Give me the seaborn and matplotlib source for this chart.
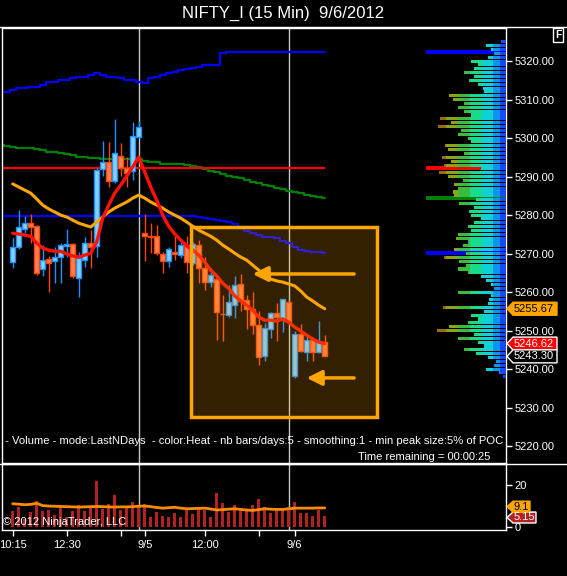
import numpy as np
import matplotlib
matplotlib.use("Agg")
import matplotlib.pyplot as plt
import seaborn as sns
from matplotlib.lines import Line2D
from matplotlib.patches import Rectangle, Polygon

# NIFTY_I 15 min bars, 9/4 10:15 .. 9/6 10:30 (bar index 0..52)
opens = [5267.8, 5271.7, 5276.4, 5277.9, 5277.1, 5266.0, 5268.6, 5268.1, 5269.1, 5272.0,
         5272.5, 5263.6, 5268.3, 5272.7, 5272.0, 5291.9, 5293.8, 5288.8, 5295.3, 5292.2,
         5291.4, 5300.3, 5275.3, 5274.6, 5274.5, 5269.9, 5268.1, 5270.3, 5269.6, 5272.2,
         5267.5, 5272.2, 5266.2, 5262.6, 5263.4, 5254.4, 5254.0, 5256.6, 5262.1, 5257.9,
         5255.6, 5251.4, 5243.4, 5250.4, 5254.5, 5253.2, 5257.4, 5238.2, 5249.1, 5244.4,
         5247.5, 5244.4, 5247.0]
highs = [5274.0, 5281.3, 5279.7, 5280.3, 5277.5, 5272.2, 5269.4, 5271.7, 5272.7, 5276.4,
         5272.7, 5270.4, 5274.3, 5276.1, 5292.2, 5299.2, 5299.0, 5304.9, 5298.7, 5295.1,
         5304.2, 5304.4, 5280.3, 5277.9, 5277.4, 5270.4, 5271.7, 5275.3, 5273.5, 5274.5,
         5273.0, 5273.5, 5269.1, 5266.2, 5263.6, 5259.2, 5261.8, 5264.2, 5264.7, 5259.2,
         5260.0, 5255.1, 5252.0, 5254.8, 5257.1, 5258.2, 5257.6, 5249.9, 5251.7, 5248.8,
         5248.1, 5252.5, 5248.8]
lows = [5266.2, 5271.2, 5275.3, 5272.7, 5264.5, 5264.2, 5260.0, 5262.3, 5262.3, 5269.1,
        5263.6, 5258.7, 5266.5, 5266.2, 5269.1, 5290.1, 5287.3, 5288.3, 5290.1, 5287.3,
        5289.1, 5300.0, 5268.1, 5270.1, 5269.6, 5264.9, 5266.5, 5268.3, 5268.8, 5264.9,
        5267.0, 5262.3, 5260.5, 5261.3, 5247.5, 5247.3, 5253.5, 5253.2, 5255.1, 5250.4,
        5249.1, 5241.0, 5242.1, 5248.1, 5247.3, 5249.6, 5251.8, 5237.7, 5244.4, 5242.1,
        5242.1, 5244.2, 5243.3]
closes = [5271.7, 5276.9, 5277.9, 5276.9, 5264.9, 5268.3, 5267.5, 5269.1, 5272.2, 5272.5,
          5264.2, 5268.8, 5272.7, 5271.7, 5291.7, 5293.8, 5288.8, 5296.1, 5292.2, 5290.9,
          5300.5, 5302.9, 5274.5, 5274.3, 5270.1, 5268.1, 5271.2, 5270.0, 5272.2, 5267.8,
          5272.5, 5266.2, 5262.6, 5264.4, 5254.8, 5254.2, 5257.4, 5261.8, 5257.7, 5255.6,
          5251.4, 5243.1, 5250.6, 5254.5, 5253.5, 5258.2, 5252.2, 5249.1, 5244.7, 5247.5,
          5244.4, 5247.0, 5243.3]

# fast (red) and slow (orange) averages
fast_ma = [5275.3, 5275.1, 5274.8, 5274.5, 5272.7, 5271.4, 5270.9, 5270.6, 5270.6, 5269.9,
           5269.4, 5269.1, 5269.6, 5270.1, 5273.0, 5279.2, 5282.6, 5285.7, 5287.8, 5290.1,
           5292.5, 5295.1, 5291.2, 5287.3, 5283.9, 5280.0, 5277.1, 5275.1, 5273.5, 5272.0,
           5270.9, 5269.6, 5267.8, 5265.7, 5264.2, 5262.3, 5261.0, 5259.0, 5257.7, 5256.6,
           5255.3, 5253.5, 5252.7, 5252.7, 5252.5, 5253.0, 5252.2, 5250.9, 5249.9, 5248.8,
           5247.8, 5247.0, 5246.62]
slow_ma = [5288.1, 5287.3, 5286.5, 5285.7, 5284.2, 5282.6, 5281.6, 5280.8, 5280.0, 5279.5,
           5278.7, 5277.9, 5277.4, 5276.9, 5278.2, 5279.5, 5280.8, 5281.8, 5282.6, 5283.4,
           5284.4, 5285.2, 5284.4, 5283.4, 5282.6, 5281.8, 5280.8, 5280.0, 5279.2, 5278.2,
           5277.1, 5276.1, 5275.3, 5274.5, 5273.5, 5272.2, 5271.2, 5270.1, 5269.1, 5268.3,
           5267.0, 5265.7, 5264.4, 5263.4, 5262.9, 5262.6, 5262.1, 5261.6, 5260.3, 5258.7,
           5257.7, 5256.6, 5255.67]

# step lines start two bars before the first candle (index -2..52)
upper_band = [5312.0, 5312.0, 5312.5, 5313.1, 5313.1, 5313.3, 5313.3, 5313.9, 5314.5, 5314.5,
              5315.0, 5315.2, 5315.5, 5316.0, 5316.0, 5316.5, 5316.8, 5316.5, 5316.0, 5315.8,
              5315.5, 5315.2, 5315.2, 5314.7, 5314.2, 5315.5, 5316.0, 5316.5, 5317.0, 5317.3,
              5317.6, 5317.9, 5318.1, 5318.4, 5318.9, 5319.1, 5319.1, 5322.0, 5322.3, 5322.3,
              5322.3, 5322.3, 5322.3, 5322.3, 5322.3, 5322.3, 5322.3, 5322.3, 5322.3, 5322.3,
              5322.3, 5322.3, 5322.3, 5322.3, 5322.3]
green_line = [5298.2, 5298.0, 5297.6, 5297.3, 5297.3, 5297.3, 5297.1, 5296.8, 5296.3, 5296.3,
              5296.0, 5295.8, 5295.5, 5295.2, 5295.0, 5294.9, 5294.8, 5294.7, 5294.5, 5294.5,
              5294.6, 5294.7, 5294.7, 5294.7, 5294.1, 5293.9, 5293.7, 5293.4, 5293.4, 5293.2,
              5293.2, 5293.0, 5292.7, 5292.5, 5291.9, 5291.4, 5291.2, 5290.6, 5290.1, 5289.9,
              5289.6, 5289.1, 5288.6, 5288.3, 5287.8, 5287.5, 5287.0, 5286.8, 5286.2, 5286.0,
              5285.7, 5285.2, 5284.9, 5284.7, 5284.4]
lower_band = [5279.8, 5279.8, 5279.8, 5279.8, 5279.8, 5279.8, 5279.8, 5279.8, 5279.8, 5279.8,
              5279.8, 5279.8, 5279.8, 5279.8, 5279.8, 5279.8, 5279.8, 5279.8, 5279.8, 5279.8,
              5279.8, 5279.8, 5279.8, 5279.8, 5279.8, 5279.8, 5279.8, 5279.8, 5279.8, 5279.8,
              5279.8, 5279.8, 5279.7, 5279.5, 5279.2, 5279.0, 5278.7, 5278.4, 5278.2, 5277.7,
              5276.6, 5275.8, 5275.3, 5274.8, 5274.3, 5274.2, 5274.0, 5273.2, 5272.7, 5271.7,
              5270.9, 5270.6, 5270.4, 5270.3, 5270.1]
poc_price = 5292.3

volume = [7.5, 9.5, 4.0, 7.0, 12.2, 7.5, 8.3, 5.6, 9.5, 4.6,
          7.5, 10.6, 7.5, 9.0, 21.7, 8.7, 11.1, 15.4, 7.9, 9.0,
          11.7, 10.6, 11.1, 4.6, 7.0, 5.1, 4.6, 6.5, 4.6, 9.0,
          6.2, 8.7, 7.9, 4.6, 16.0, 11.3, 7.1, 10.3, 7.9, 7.9,
          10.5, 13.2, 9.4, 6.5, 8.6, 7.9, 9.4, 11.7, 6.5, 6.5,
          5.1, 8.1, 5.15]
vol_ma = [11.1, 10.9, 10.6, 10.8, 11.3, 10.2, 10.0, 9.9, 9.8, 9.7,
          9.6, 9.5, 9.6, 9.7, 9.8, 9.7, 9.6, 9.5, 9.6, 9.6,
          9.7, 9.9, 10.0, 9.7, 9.3, 9.0, 9.2, 9.4, 9.0, 8.7,
          8.8, 8.9, 9.0, 8.6, 8.1, 8.3, 8.5, 8.7, 8.4, 8.1,
          7.9, 8.3, 8.7, 8.5, 8.4, 8.4, 8.7, 9.0, 9.0, 9.0,
          9.0, 9.1, 9.1]

# volume profile, one value per price point from 5238 up to 5325
profile_low = 5238
profile = [3, 7, 20, 12, 10, 18, 30, 42, 22, 28,
           48, 32, 69, 57, 38, 28, 35, 22, 63, 18,
           17, 15, 48, 12, 15, 20, 25, 38, 48, 40,
           47, 62, 40, 52, 43, 38, 50, 48, 35, 38,
           32, 25, 35, 37, 32, 47, 30, 52, 53, 48,
           52, 43, 58, 67, 25, 62, 55, 64, 42, 58,
           61, 35, 38, 48, 45, 68, 55, 66, 35, 42,
           48, 42, 53, 57, 22, 23, 28, 37, 32, 42,
           32, 28, 35, 18, 12, 15, 20, 5]

tick_bars = [0, 9, 18, 22, 32, 41, 47]
tick_labels = ["10:15", "12:30", "", "9/5", "12:00", "", "9/6"]
session_lines = [21, 46]

W, H = 567, 576
AX_L, AX_R = 2, 506
PRICE_TOP, PRICE_BOT = 28, 463
VOL_TOP, VOL_BOT = 464, 530
PRICE_LIM = (5215.6, 5328.6)
VOL_LIM = (-1.4, 30.0)
X_LIM = ((AX_L - 12.7) / 6, (AX_R - 12.7) / 6)

sns.set_theme(style="dark", rc={
    "axes.facecolor": "black", "figure.facecolor": "black",
    "axes.edgecolor": "white", "text.color": "white",
    "xtick.color": "white", "ytick.color": "white", "axes.grid": False,
})
plt.rcParams["font.family"] = ["Liberation Sans", "DejaVu Sans"]

fig = plt.figure(figsize=(W / 100, H / 100), dpi=100)


def fx(px):
    return px / W


def fy(py):
    return 1 - py / H


ax = fig.add_axes([fx(AX_L), fy(PRICE_BOT), (AX_R - AX_L) / W, (PRICE_BOT - PRICE_TOP) / H])
axv = fig.add_axes([fx(AX_L), fy(VOL_BOT), (AX_R - AX_L) / W, (VOL_BOT - VOL_TOP) / H])

bars = np.arange(len(closes))
ext_bars = np.arange(-2, len(closes))

for g in session_lines:
    ax.axvline(g, color="#C8C8C8", lw=1, zorder=1)
    axv.axvline(g, color="#C8C8C8", lw=1, zorder=1)

# step lines
sns.lineplot(x=ext_bars, y=upper_band, ax=ax, color="#0000FF", lw=1.6, drawstyle="steps-mid", zorder=2)
sns.lineplot(x=ext_bars, y=green_line, ax=ax, color="#008000", lw=1.6, drawstyle="steps-mid", zorder=2)
sns.lineplot(x=ext_bars, y=lower_band, ax=ax, color="#0000FF", lw=1.6, drawstyle="steps-mid", zorder=2)
ax.hlines(poc_price, ext_bars[0], bars[-1], color="#FF0000", lw=1.6, zorder=2)

# candles
o, h, l, c = (np.array(v) for v in (opens, highs, lows, closes))
up = c >= o
edge = np.where(up, "#1E90FF", "#FF4500")
fill = np.where(up, "#87CEFA", "#FF7F50")
ax.vlines(bars, l, h, colors=edge, lw=1, zorder=3)
ax.bar(bars, np.maximum(np.abs(c - o), 0.2), bottom=np.minimum(o, c), width=0.8,
       color=fill, edgecolor=edge, linewidth=1, zorder=4)

sns.lineplot(x=bars, y=slow_ma, ax=ax, color="#FFA500", lw=2.2, zorder=5)
sns.lineplot(x=bars, y=fast_ma, ax=ax, color="#FF1000", lw=2.4, zorder=5)

# highlight box and arrows
ax.add_patch(Rectangle((29.7, 5227.5), 31.0, 49.4, facecolor=(1, 0.647, 0, 0.2),
                       edgecolor="#FFA500", lw=2.5, zorder=8))
for tail, head in [((56.9, 5264.7), (40.0, 5264.7)), ((56.9, 5237.7), (49.0, 5237.7))]:
    ax.annotate("", xy=head, xytext=tail, zorder=9,
                arrowprops=dict(arrowstyle="-|>,head_length=0.9,head_width=0.45", color="#FFA500",
                                lw=2.5, mutation_scale=10, shrinkA=0, shrinkB=0))

ax.set_xlim(*X_LIM)
ax.set_ylim(*PRICE_LIM)
ax.set_yticks(np.arange(5220, 5321, 10))
ax.set_yticklabels([f"{v:.2f}" for v in np.arange(5220, 5321, 10)])
ax.yaxis.tick_right()
ax.tick_params(axis="y", right=True, left=False, labelright=True, labelleft=False, colors="white",
               length=4.5, width=1, labelsize=8, pad=1.5, direction="out")
ax.tick_params(axis="x", bottom=False, labelbottom=False)
ax.set_xlabel("")
ax.set_ylabel("")

# volume profile on the right edge
axp = ax.twiny()
axp.set_xlim(AX_R - AX_L, 0)
axp.axis("off")
prof_prices = np.arange(profile_low, profile_low + len(profile))
prof = np.array(profile, dtype=float)
axp.barh([upper_band[-1], poc_price, green_line[-1], lower_band[-1]], 80, left=0, height=0.95,
         color=["#0000FF", "#FF0000", "#008000", "#0000FF"], linewidth=0, zorder=2)
bounds = [0, 6, 13, 24, 36, 48, 60, 100]
heat = ["#1848FF", "#0A96F0", "#10D0D8", "#18DC8C", "#3CBC3C", "#8CA414", "#9C6A12"]
for k, col in enumerate(heat):
    seg = np.clip(prof - bounds[k], 0, bounds[k + 1] - bounds[k])
    axp.barh(prof_prices, seg, left=bounds[k], height=0.8, color=col, linewidth=0, zorder=3)

# volume panel
sns.barplot(x=bars, y=volume, ax=axv, native_scale=True, color="#B22222", saturation=1,
            width=0.5, errorbar=None, linewidth=0, zorder=3)
sns.lineplot(x=bars, y=vol_ma, ax=axv, color="#FF8C00", lw=2, zorder=4)
axv.set_xlim(*X_LIM)
axv.set_ylim(*VOL_LIM)
axv.set_xticks(tick_bars)
axv.set_xticklabels(tick_labels)
axv.set_yticks([0, 20])
axv.set_yticklabels(["0", "20"])
axv.yaxis.tick_right()
axv.tick_params(axis="y", right=True, left=False, labelright=True, labelleft=False, colors="white",
                length=4.5, width=1, labelsize=8, pad=1.5, direction="out")
axv.tick_params(axis="x", bottom=True, colors="white", length=4.5, width=1, labelsize=8,
                pad=3, direction="out")
axv.set_xlabel("")
axv.set_ylabel("")

for a in (ax, axv):
    for s in a.spines.values():
        s.set_color("white")
        s.set_linewidth(1)


def tag(axis, value, text, face, edge_col, text_col, right_px, px_per_unit, half_px=6.5):
    tr = axis.get_yaxis_transform()
    hh = half_px / px_per_unit

    def xa(p):
        return (p - AX_L) / (AX_R - AX_L)
    pts = [(xa(507), value), (xa(513), value + hh), (xa(right_px), value + hh),
           (xa(right_px), value - hh), (xa(513), value - hh)]
    axis.add_patch(Polygon(pts, closed=True, transform=tr, clip_on=False, fc=face,
                           ec=edge_col, lw=1, zorder=10))
    axis.text(xa(514), value, text, transform=tr, ha="left", va="center", color=text_col,
              fontsize=8, clip_on=False, zorder=11)


ppu = (PRICE_BOT - PRICE_TOP) / (PRICE_LIM[1] - PRICE_LIM[0])
vpu = (VOL_BOT - VOL_TOP) / (VOL_LIM[1] - VOL_LIM[0])
tag(ax, slow_ma[-1], f"{slow_ma[-1]:.2f}", "#FFA500", "#FFA500", "black", 557, ppu)
tag(ax, fast_ma[-1], f"{fast_ma[-1]:.2f}", "#FF0000", "white", "white", 557, ppu)
tag(ax, closes[-1], f"{closes[-1]:.2f}", "black", "white", "white", 557, ppu)
tag(axv, volume[-1] - 0.6, f"{volume[-1]:.2f}", "#B22222", "white", "white", 536, vpu, 5.5)
tag(axv, vol_ma[-1] + 0.6, f"{vol_ma[-1]:.1f}", "#FFA500", "#FFA500", "black", 530, vpu, 5.5)

# frame lines and texts
for py in (27, 463.5):
    fig.add_artist(Line2D([0, 1], [fy(py), fy(py)], color="white", lw=1, transform=fig.transFigure))
fig.text(0.5, fy(13), "NIFTY_I (15 Min)  9/6/2012", ha="center", va="center", color="white", fontsize=12)
fig.text(fx(558), fy(35), "F", ha="center", va="center", color="white", fontsize=7.5, fontweight="bold",
         bbox=dict(boxstyle="square,pad=0.2", fc="black", ec="white", lw=1))
fig.text(fx(2), fy(441), " - Volume - mode:LastNDays  - color:Heat - nb bars/days:5 - smoothing:1 - min peak size:5% of POC",
         ha="left", va="center", color="white", fontsize=8.1)
fig.text(fx(490), fy(457), "Time remaining = 00:00:25", ha="right", va="center", color="white", fontsize=8)
fig.text(fx(3), fy(522), "\u00a9 2012 NinjaTrader, LLC", ha="left", va="center", color="white", fontsize=8)

fig.savefig("out.png", dpi=100, facecolor="black")
